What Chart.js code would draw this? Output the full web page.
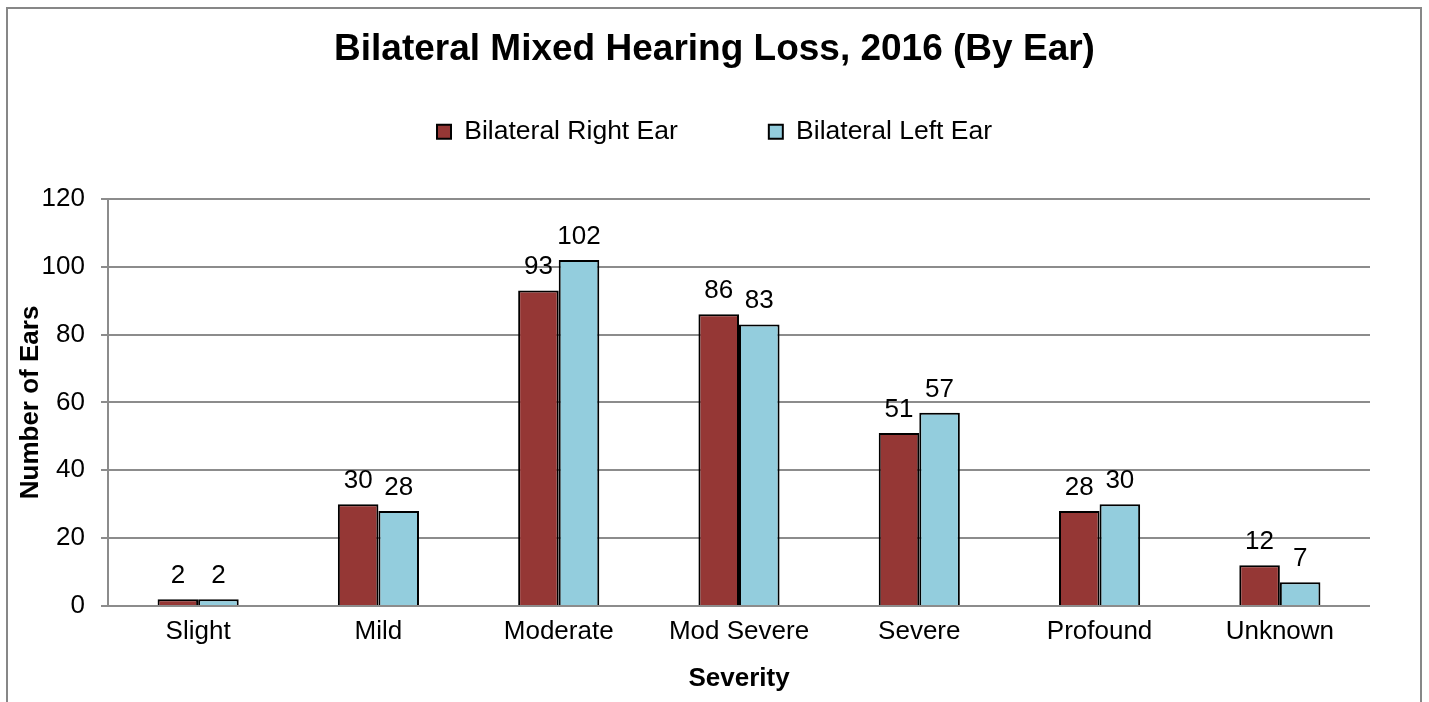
<!DOCTYPE html>
<html>
<head>
<meta charset="utf-8">
<script src="https://cdn.jsdelivr.net/npm/chart.js@4/dist/chart.umd.min.js"></script>
<style>
  html, body { margin: 0; padding: 0; background: #fff; }
  #wrap { width: 1429px; height: 702px; }
</style>
</head>
<body>
<div id="wrap"><canvas id="HearingChart"></canvas></div>
<script>
var severity = ['Slight', 'Mild', 'Moderate', 'Mod Severe', 'Severe', 'Profound', 'Unknown'];
var right_ear = [2, 30, 93, 86, 51, 28, 12];
var left_ear = [2, 28, 102, 83, 57, 30, 7];
var y_ticks = [0, 20, 40, 60, 80, 100, 120];

var fontname = '"Liberation Sans", Arial, sans-serif';

// outer frame like the office chart box
var framePlugin = {
    id: 'frame',
    beforeDraw: function (chart) {
        let ctx = chart.ctx;
        ctx.save();
        ctx.fillStyle = '#fff';
        ctx.fillRect(0, 0, chart.width, chart.height);
        ctx.strokeStyle = '#878787';
        ctx.lineWidth = 2;
        ctx.strokeRect(7, 8, 1414, 720);
        ctx.restore();
    }
};

// numbers above each bar
var barLabelPlugin = {
    id: 'barlabels',
    afterDatasetsDraw: function (chart) {
        let ctx = chart.ctx;
        ctx.save();
        ctx.font = '26px ' + fontname;
        ctx.fillStyle = '#000';
        ctx.textAlign = 'center';
        ctx.textBaseline = 'alphabetic';
        chart.data.datasets.forEach(function (ds, i) {
            let meta = chart.getDatasetMeta(i);
            meta.data.forEach(function (bar, j) {
                ctx.fillText(ds.data[j], bar.x, bar.y - 16);
            });
        });
        ctx.restore();
    }
};

// extra room under the legend
var legendGapPlugin = {
    id: 'legendgap',
    beforeLayout: function (chart) {
        let lg = chart.legend;
        if (lg && !lg._gapPatched) {
            let fit = lg.fit;
            lg.fit = function () {
                fit.call(this);
                this.height += 44;
            };
            lg._gapPatched = true;
        }
    }
};

const ctx = document.getElementById('HearingChart');
const config = {
    type: 'bar',
    data: {
        labels: severity,
        datasets: [{
            label: 'Bilateral Right Ear',
            data: right_ear,
            backgroundColor: '#953735',
            borderColor: '#000',
            borderWidth: 2
        }, {
            label: 'Bilateral Left Ear',
            data: left_ear,
            backgroundColor: '#93CDDD',
            borderColor: '#000',
            borderWidth: 2
        }]
    },
    options: {
        responsive: true,
        maintainAspectRatio: false,
        animation: false,
        devicePixelRatio: 1,
        layout: {
            padding: { top: 8, left: 7, right: 7, bottom: 0 }
        },
        datasets: {
            bar: {
                categoryPercentage: 0.45,
                barPercentage: 1
            }
        },
        plugins: {
            title: {
                display: true,
                text: 'Bilateral Mixed Hearing Loss, 2016 (By Ear)',
                color: '#000',
                font: { family: fontname, size: 37, weight: 'bold' },
                padding: { top: 20, bottom: 36 }
            },
            legend: {
                display: true,
                labels: {
                    color: '#000',
                    font: { family: fontname, size: 26.5 },
                    boxWidth: 14,
                    boxHeight: 14,
                    padding: 10,
                    generateLabels: function (chart) {
                        let items = Chart.defaults.plugins.legend.labels.generateLabels(chart);
                        items.forEach(function (it) { it.lineWidth = 2; });
                        items[0].text = items[0].text + '           ';
                        return items;
                    }
                }
            },
            tooltip: { enabled: false }
        },
        scales: {
            x: {
                grid: { display: false, drawTicks: false },
                border: { display: false },
                ticks: {
                    color: '#000',
                    padding: 10,
                    font: { family: fontname, size: 26 }
                },
                title: {
                    display: true,
                    text: 'Severity',
                    color: '#000',
                    font: { family: fontname, size: 26, weight: 'bold' },
                    padding: { top: 4, bottom: 8 }
                },
                afterFit: function (scale) { scale.height = 96; }
            },
            y: {
                min: 0,
                max: 120,
                afterBuildTicks: function (scale) {
                    scale.ticks = y_ticks.map(function (v) { return { value: v }; });
                },
                grid: {
                    color: '#8c8c8c',
                    lineWidth: 2,
                    tickLength: 7,
                    drawTicks: true
                },
                border: { display: true, color: '#8c8c8c', width: 2 },
                ticks: {
                    color: '#000',
                    padding: 16,
                    font: { family: fontname, size: 26 }
                },
                title: {
                    display: true,
                    text: 'Number of Ears',
                    color: '#000',
                    font: { family: fontname, size: 26, weight: 'bold' },
                    padding: { top: 8, bottom: 0 }
                },
                afterFit: function (scale) { scale.width = 101; }
            },
            // empty space on the right, keeps title and legend centred on the frame
            yspace: {
                position: 'right',
                min: 0,
                max: 120,
                grid: { display: false, drawTicks: false },
                border: { display: false },
                ticks: { display: false },
                afterFit: function (scale) { scale.width = 52; }
            }
        }
    },
    plugins: [framePlugin, barLabelPlugin, legendGapPlugin]
};

var HearingChart = new Chart(ctx, config);
</script>
</body>
</html>
